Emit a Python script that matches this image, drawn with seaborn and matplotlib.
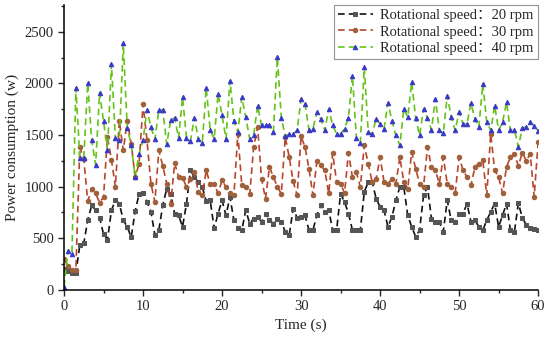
import matplotlib
matplotlib.use("Agg")
import matplotlib.pyplot as plt
import numpy as np
import seaborn as sns
from matplotlib.ticker import MultipleLocator

# power readings (w), one sample every 0.5 s from 0 to 60 s
p20 = [200, 180, 166, 166, 434, 450, 675, 820, 772, 700, 540, 485, 770, 870, 836, 675, 611, 510, 760, 932,
       936, 852, 756, 531, 579, 820, 981, 925, 740, 723, 611, 836, 1158, 1093, 1045, 994, 860, 868, 595, 740,
       868, 723, 900, 675, 595, 579, 772, 643, 691, 707, 659, 740, 675, 643, 691, 659, 563, 531, 788, 700,
       707, 723, 579, 579, 723, 820, 756, 772, 579, 579, 932, 852, 740, 579, 579, 579, 949, 1045, 1045, 884,
       804, 772, 611, 707, 868, 997, 997, 723, 611, 515, 579, 917, 997, 691, 659, 659, 563, 868, 675, 659,
       740, 740, 836, 659, 675, 611, 579, 675, 756, 836, 611, 723, 836, 579, 563, 840, 700, 629, 600, 593,
       581]
p30 = [300, 230, 190, 190, 1385, 1265, 860, 975, 935, 845, 900, 1480, 1260, 1000, 1640, 1350, 1640, 1415, 1095, 1220,
       1801, 1448, 1029, 852, 1351, 1200, 1029, 836, 1229, 1093, 1087, 997, 1074, 1138, 949, 917, 1158, 1022, 1022, 936,
       1061, 997, 936, 917, 1512, 1013, 997, 925, 1383, 1576, 1074, 884, 1190, 1093, 997, 932, 1480, 1286, 1050, 917,
       1486, 1383, 1174, 917, 1245, 1206, 1158, 936, 1326, 1045, 1029, 936, 1326, 1093, 1138, 997, 1399, 1222, 1045, 1074,
       1286, 1045, 1029, 1074, 1029, 1286, 1045, 981, 1335, 1174, 1029, 997, 1383, 1190, 1158, 1029, 1286, 1029, 997, 936,
       1286, 1158, 1093, 1013, 1190, 1222, 1254, 917, 1512, 1158, 1093, 936, 1190, 1286, 1318, 1200, 1330, 1250, 1320, 900,
       1430]
p40 = [30, 379, 347, 1956, 1280, 1280, 2001, 1448, 1213, 1911, 1634, 1351, 2187, 1470, 1454, 2387, 1570, 1405, 1093, 1319,
       1448, 1743, 1576, 1457, 1743, 1743, 1409, 1647, 1667, 1473, 1866, 1473, 1441, 1667, 1463, 1421, 1956, 1550, 1463, 1898,
       1689, 1463, 2026, 1640, 1528, 1866, 1673, 1463, 1500, 1785, 1592, 1592, 1592, 1528, 2251, 1667, 1486, 1512, 1512, 1544,
       1850, 1801, 1550, 1560, 1721, 1656, 1544, 1753, 1592, 1512, 1512, 1560, 1667, 2074, 1473, 1421, 2155, 1528, 1512, 1656,
       1608, 1560, 1808, 1640, 1496, 1399, 1753, 1673, 2010, 1667, 1496, 1753, 1667, 1550, 1850, 1544, 1518, 1882, 1673, 1544,
       1721, 1608, 1608, 1808, 1656, 1576, 1994, 1624, 1544, 1785, 1544, 1624, 1818, 1544, 1550, 1387, 1565, 1581, 1629, 1588,
       1542]
labels = ["Rotational speed\uff1a20 rpm", "Rotational speed\uff1a30 rpm", "Rotational speed\uff1a40 rpm"]
t = np.linspace(0, 60, len(p20))

sns.set_style("ticks")
plt.rcParams["font.family"] = ["Liberation Serif", "Noto Sans CJK SC"]
plt.rcParams["font.size"] = 10.5

fig = plt.figure(figsize=(5.5, 3.46), dpi=100)
ax = fig.add_axes([0.1164, 0.162, 0.862, 0.824])

styles = [
    (p20, "#111111", "s", "#555555"),
    (p30, "#b8452c", "o", "#a0603a"),
    (p40, "#66c21a", "^", "#3838c8"),
]
for (vals, lc, mk, mc), lab in zip(styles, labels):
    sns.lineplot(x=t, y=vals, ax=ax, color=lc, linestyle=(0, (4, 2.5)), linewidth=1.2,
                 marker=mk, markersize=3.2, markerfacecolor=mc, markeredgecolor=mc,
                 label=lab)

ax.set_xlim(0, 60)
ax.set_ylim(0, 2760)
ax.xaxis.set_major_locator(MultipleLocator(10))
ax.xaxis.set_minor_locator(MultipleLocator(5))
ax.yaxis.set_major_locator(MultipleLocator(500))
ax.yaxis.set_minor_locator(MultipleLocator(250))
ax.tick_params(which="major", direction="out", length=4, width=1, labelsize=10.5)
ax.tick_params(which="minor", direction="out", length=2.5, width=1)
sns.despine(ax=ax)
for s in ["left", "bottom"]:
    ax.spines[s].set_linewidth(1.1)
    ax.spines[s].set_color("black")

ax.set_xlabel("Time (s)", fontsize=11)
ax.set_ylabel("Power consumption (w)", fontsize=11)

leg = ax.legend(loc="upper right", bbox_to_anchor=(1.0, 1.0), fontsize=10.5, frameon=True,
                fancybox=False, edgecolor="#777777", handlelength=2.4, handletextpad=0.5,
                borderpad=0.3, labelspacing=0.2, borderaxespad=0.0)
leg.get_frame().set_linewidth(0.8)

fig.savefig("out.png", dpi=100)
